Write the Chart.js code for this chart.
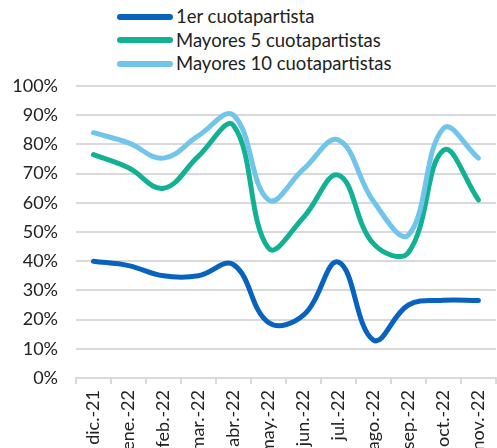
<!DOCTYPE html>
<html>
<head>
<meta charset="utf-8">
<script src="https://cdn.jsdelivr.net/npm/chart.js@4/dist/chart.umd.min.js"></script>
<style>
  html, body { margin: 0; padding: 0; background: #fff; overflow: hidden; width: 497px; height: 448px; }
  #wrap { position: absolute; left: 0; top: 0; width: 506px; height: 480px; }
  .legend { position: absolute; left: 117px; top: 5px; font-family: Lato, sans-serif; font-size: 18.5px; color: #222; }
  .legend div { height: 23.5px; line-height: 23px; display: flex; align-items: center; }
  .legend span.sw { display: inline-block; width: 56px; height: 6px; border-radius: 3px; margin-right: 3px; }
</style>
</head>
<body>
<div class="legend" id="legend"></div>
<div id="wrap"><canvas id="chart" width="506" height="480"></canvas></div>
<script>
const months = ['dic.-21', 'ene.-22', 'feb.-22', 'mar.-22', 'abr.-22', 'may.-22', 'jun.-22', 'jul.-22', 'ago.-22', 'sep.-22', 'oct.-22', 'nov.-22'];
const primerCuotapartista = [40, 38.5, 35, 35, 38.8, 19, 21.5, 39.7, 13, 25, 26.6, 26.5];
const mayores5 = [76.5, 72, 65, 76, 86.5, 44.5, 55, 69.5, 46, 43, 78, 61];
const mayores10 = [84, 80.5, 75.3, 83, 90, 61, 71.5, 81.5, 60.5, 49, 85.5, 75.3];
const seriesNames = ['1er cuotapartista', 'Mayores 5 cuotapartistas', 'Mayores 10 cuotapartistas'];
const colors = ['#0763BD', '#13B193', '#71C4EA'];

// html legend, items stacked and left aligned
const legend = document.getElementById('legend');
seriesNames.forEach((name, i) => {
    const row = document.createElement('div');
    row.innerHTML = '<span class="sw" style="background:' + colors[i] + '"></span>' + name;
    legend.appendChild(row);
});

const mkSet = (label, data, color) => ({
    label: label,
    data: data,
    borderColor: color,
    backgroundColor: color,
    borderWidth: 5,
    borderCapStyle: 'round',
    pointRadius: 0,
    tension: 0.4,
    fill: false,
});

new Chart(document.getElementById('chart').getContext('2d'), {
    type: 'line',
    data: {
        labels: months,
        datasets: [
            mkSet(seriesNames[2], mayores10, colors[2]),
            mkSet(seriesNames[1], mayores5, colors[1]),
            mkSet(seriesNames[0], primerCuotapartista, colors[0]),
        ],
    },
    options: {
        responsive: false,
        animation: false,
        layout: { padding: { top: 86, right: 0, left: 0, bottom: 0 } },
        plugins: { legend: { display: false }, tooltip: { enabled: false } },
        scales: {
            x: {
                offset: true,
                afterFit: (s) => { s.height = 102; },
                grid: { offset: true, drawOnChartArea: false, drawTicks: true, tickLength: 6, color: '#d9d9d9', lineWidth: 2 },
                border: { display: true, color: '#d9d9d9', width: 2 },
                ticks: {
                    minRotation: 90, maxRotation: 90, autoSkip: false, padding: 6,
                    color: '#222', font: { family: 'Lato', size: 18 },
                },
            },
            y: {
                min: 0, max: 100,
                afterFit: (s) => { s.width = 76; },
                grid: { color: '#d9d9d9', lineWidth: 2, drawTicks: false },
                border: { display: false },
                ticks: {
                    stepSize: 10, padding: 18,
                    color: '#222', font: { family: 'Lato', size: 18 },
                    callback: (v) => v + '%',
                },
            },
        },
    },
});
</script>
</body>
</html>
